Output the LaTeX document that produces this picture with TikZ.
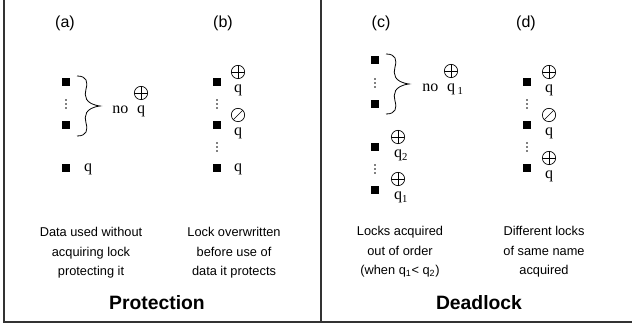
\documentclass[tikz,border=0pt]{standalone}
\usepackage{fontspec}
\setmainfont{Liberation Serif}
\setsansfont{Liberation Sans}
\usetikzlibrary{positioning}

\tikzset{
  blk/.style={fill=black, inner sep=0pt, minimum size=6pt},
  lockon/.style={circle, draw, line width=0.5pt, minimum size=10pt, inner sep=0pt,
    path picture={\draw[line width=0.5pt] (path picture bounding box.north) -- (path picture bounding box.south)
      (path picture bounding box.west) -- (path picture bounding box.east);}},
  lockoff/.style={circle, draw, line width=0.5pt, minimum size=10pt, inner sep=0pt,
    path picture={\draw[line width=0.5pt] (path picture bounding box.south west) -- (path picture bounding box.north east);}},
  qlbl/.style={inner sep=0pt, font=\fontsize{12}{14}\selectfont},
  tag/.style={font=\sffamily\fontsize{12}{14}\selectfont},
  note/.style={align=center, font=\sffamily\fontsize{9.6}{14.6}\selectfont},
  heading/.style={font=\sffamily\bfseries\fontsize{14.5}{17}\selectfont},
  boxline/.style={line width=1.1pt, black!80},
  vdts/.pic={\foreach \k in {-4,0,4} \fill (0,\k) circle (0.6pt);},
  curly/.pic={\draw[line width=0.6pt] (0,0) .. controls (10,0) and (11,6) .. (9,13)
    .. controls (7,20) and (8,28) .. (23,30) .. controls (8,32) and (7,40) .. (9,47)
    .. controls (11,54) and (10,60) .. (0,60);}
}

\begin{document}
\begin{tikzpicture}[x=0.75pt, y=-0.75pt]
  \useasboundingbox (0,0) rectangle (632,327);
  \draw[boxline] (4,0) -- (4,322) -- (632,322);
  \draw[boxline] (321,0) -- (321,322);

  % (a) no lock held
  \node[tag] (ta) at (65,23) {(a)};
  \node[blk] (a1) at (66,82) {};
  \node[blk] (a2) at (66,125) {};
  \node[blk] (a3) at (66,168) {};
  \pic at (66,104) {vdts};
  \pic at (77,76) {curly};
  \node[lockon] (la) at (141,93) {};
  \node[qlbl, below=4.5pt of la] (qa) {q};
  \node[qlbl, base left=6pt of qa] (noa) {no};
  \node[qlbl, anchor=base] (qa3) at (88,172) {q};

  % (b) lock overwritten
  \node[tag] (tb) at (223,23) {(b)};
  \node[blk] (b1) at (217,82) {};
  \node[blk] (b2) at (217,125) {};
  \node[blk] (b3) at (217,168) {};
  \pic at (217,104) {vdts};
  \pic at (217,147) {vdts};
  \node[lockon] (lb1) at (238,72) {};
  \node[qlbl, below=4.5pt of lb1] (qb1) {q};
  \node[lockoff] (lb2) at (238,115) {};
  \node[qlbl, below=4.5pt of lb2] (qb2) {q};
  \node[qlbl, anchor=base] (qb3) at (238,172) {q};

  % (c) out of order
  \node[tag] (tc) at (381,23) {(c)};
  \node[blk] (c1) at (375,60) {};
  \node[blk] (c2) at (375,104) {};
  \node[blk] (c3) at (375,147) {};
  \node[blk] (c4) at (375,190) {};
  \pic at (375,83) {vdts};
  \pic at (375,169) {vdts};
  \pic at (386,54) {curly};
  \node[lockon] (lc1) at (451,71) {};
  \node[qlbl, below=4.5pt of lc1] (qc1) {q\rlap{\,\textsubscript{1}}};
  \node[qlbl, base left=6pt of qc1] (noc) {no};
  \node[lockon] (lc2) at (398,137) {};
  \node[qlbl, below=4.5pt of lc2] (qc2) {q\rlap{\textsubscript{2}}};
  \node[lockon] (lc3) at (398,179) {};
  \node[qlbl, below=4.5pt of lc3] (qc3) {q\rlap{\textsubscript{1}}};

  % (d) same name twice
  \node[tag] (td) at (526,23) {(d)};
  \node[blk] (d1) at (527,82) {};
  \node[blk] (d2) at (527,125) {};
  \node[blk] (d3) at (527,168) {};
  \pic at (527,104) {vdts};
  \pic at (527,147) {vdts};
  \node[lockon] (ld1) at (549,72) {};
  \node[qlbl, below=4.5pt of ld1] (qd1) {q};
  \node[lockoff] (ld2) at (549,115) {};
  \node[qlbl, below=4.5pt of ld2] (qd2) {q};
  \node[lockon] (ld3) at (549,158) {};
  \node[qlbl, below=4.5pt of ld3] (qd3) {q};

  % captions
  \node[note] (na) at (91,253) {Data used without\\acquiring lock\\protecting it};
  \node[note] (nb) at (234,253) {Lock overwritten\\before use of\\data it protects};
  \node[note] (nc) at (400,252) {Locks acquired\\out of order\\(when q\textsubscript{1}<\ q\textsubscript{2})};
  \node[note] (nd) at (544,252) {Different locks\\of same name\\acquired};
  \node[heading] (hp) at (157,303) {Protection};
  \node[heading] (hd) at (479,303) {Deadlock};
\end{tikzpicture}
\end{document}
